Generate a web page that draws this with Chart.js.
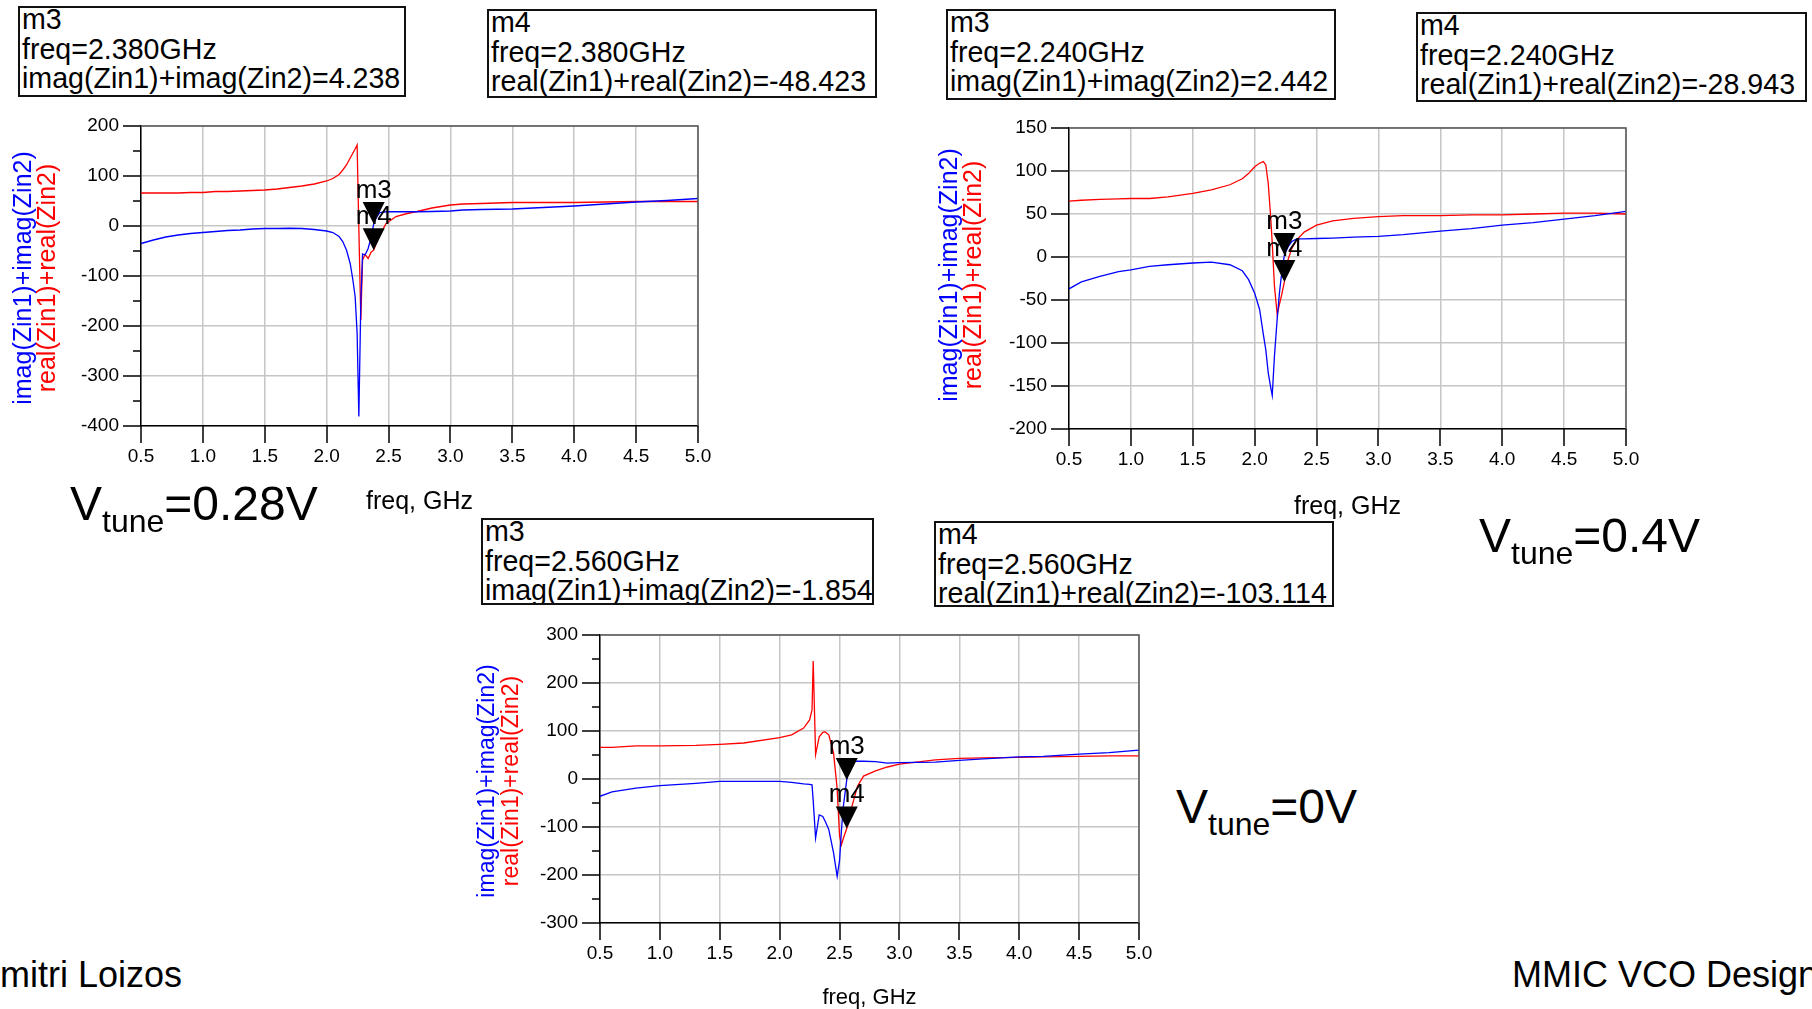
<!DOCTYPE html>
<html>
<head>
<meta charset="utf-8">
<script src="https://cdn.jsdelivr.net/npm/chart.js@4.4.1/dist/chart.umd.min.js"></script>
<style>
  html, body { margin: 0; padding: 0; background: #fff; }
  body { width: 1812px; height: 1009px; position: relative; overflow: hidden;
         font-family: 'Liberation Sans', Arial, sans-serif; color: #000; }
  canvas { position: absolute; }
  .box { position: absolute; border: 2px solid #111; box-sizing: border-box; font-size: 28.6px;
         line-height: 29.5px; padding-left: 2px; white-space: nowrap; overflow: hidden; background: #fff; }
  .box div:first-child { margin-top: -3px; }
  .vtune { position: absolute; font-size: 48px; line-height: 48px; white-space: nowrap; }
  .vtune span { font-size: 32px; vertical-align: -12px; }
  .ytitle { position: absolute; line-height: 1; white-space: nowrap; transform: translate(-50%, -50%) rotate(-90deg); }
  .foot { position: absolute; font-size: 36px; line-height: 36px; white-space: nowrap; }
</style>
</head>
<body>

<canvas id="c1"></canvas>
<canvas id="c2"></canvas>
<canvas id="c3"></canvas>

<div id="b1m3" class="box" style="left:18px;top:6px;width:388px;height:91px"></div>
<div id="b1m4" class="box" style="left:487px;top:9px;width:390px;height:89px"></div>
<div id="b2m3" class="box" style="left:946px;top:9px;width:390px;height:91px"></div>
<div id="b2m4" class="box" style="left:1416px;top:12px;width:391px;height:90px"></div>
<div id="b3m3" class="box" style="left:481px;top:518px;width:393px;height:87px"></div>
<div id="b3m4" class="box" style="left:934px;top:521px;width:400px;height:86px"></div>

<div class="ytitle" style="left:22px;top:278px;font-size:25px;color:#0000ff">imag(Zin1)+imag(Zin2)</div>
<div class="ytitle" style="left:46px;top:278px;font-size:25px;color:#ff0000">real(Zin1)+real(Zin2)</div>
<div class="ytitle" style="left:948px;top:275px;font-size:25px;color:#0000ff">imag(Zin1)+imag(Zin2)</div>
<div class="ytitle" style="left:972px;top:275px;font-size:25px;color:#ff0000">real(Zin1)+real(Zin2)</div>
<div class="ytitle" style="left:486px;top:781px;font-size:23px;color:#0000ff">imag(Zin1)+imag(Zin2)</div>
<div class="ytitle" style="left:510px;top:781px;font-size:23px;color:#ff0000">real(Zin1)+real(Zin2)</div>

<div class="vtune" style="left:70px;top:480px">V<span>tune</span>=0.28V</div>
<div class="vtune" style="left:1479px;top:512px">V<span>tune</span>=0.4V</div>
<div class="vtune" style="left:1176px;top:783px">V<span>tune</span>=0V</div>

<div class="foot" style="left:-34px;top:957px">Dimitri Loizos</div>
<div class="foot" style="left:1512px;top:957px">MMIC VCO Design</div>

<script>
// Vtune = 0.28 V
const freq1 = [0.5, 0.6, 0.7, 0.8, 0.9, 1.0, 1.1, 1.2, 1.3, 1.4, 1.5, 1.6, 1.7, 1.8, 1.9, 2.0,
  2.05, 2.1, 2.13, 2.16, 2.19, 2.21, 2.23, 2.246, 2.26, 2.276,
  2.29, 2.31, 2.335, 2.36, 2.38, 2.40, 2.43, 2.48, 2.56, 2.65,
  2.73, 2.85, 3.0, 3.1, 3.25, 3.5, 3.75, 4.0, 4.25, 4.5, 4.75, 5.0];
const imag1 = [-35, -28, -22, -18, -15, -13, -11, -9, -8, -6, -5, -5, -4.5, -5, -7, -10,
  -13, -21, -31, -48, -75, -105, -141, -214, -381, -150,
  -56, -58, -45, -22, 4.238, 16, 27, 28.5, 28.5, 28.5,
  28.5, 29, 30, 32, 33, 34, 37, 40, 44, 48, 51, 55];
const real1 = [66, 66, 66, 66, 67, 67, 69, 69, 70, 71, 72, 74, 77, 80, 84, 90,
  95, 103, 112, 122, 136, 145, 154, 162, -5, -188,
  -68, -57, -65, -52, -48.423, -35, -18, 5, 19, 25,
  29, 36, 42, 44, 45, 47, 47, 47, 48, 49, 49, 49];

// Vtune = 0.4 V
const freq2 = [0.5, 0.6, 0.75, 0.9, 1.0, 1.15, 1.3, 1.5, 1.65, 1.8,
  1.9, 1.95, 2.0, 2.04, 2.07, 2.09, 2.11, 2.13, 2.142, 2.16,
  2.182, 2.2, 2.215, 2.24, 2.27, 2.3, 2.34, 2.4, 2.5, 2.63,
  2.8, 3.0, 3.2, 3.5, 3.75, 4.0, 4.25, 4.5, 4.75, 5.0];
const imag2 = [-37, -29, -22.5, -17, -15, -11, -9, -7, -6, -9,
  -16, -26, -42, -61, -90, -108, -135, -152, -161, -115,
  -72, -42, -23, 2.442, 12, 18, 21, 21, 21.5, 22,
  23, 24, 26, 30, 33, 37, 40, 44, 48, 53];
const real2 = [65, 66, 67, 67.5, 68, 68, 70, 74, 78, 84,
  91, 97, 105, 109, 111, 107, 85, 45, 16, -34,
  -67, -55, -46, -28.943, -3, 10, 20, 29, 37, 42,
  45, 47, 48, 48, 49, 49, 50, 51, 51, 50];

// Vtune = 0 V
const freq3 = [0.5, 0.6, 0.8, 1.0, 1.3, 1.5, 1.7, 2.0, 2.1, 2.2,
  2.25, 2.27, 2.28, 2.3, 2.33, 2.36, 2.38, 2.41, 2.45, 2.48,
  2.5, 2.515, 2.53, 2.56, 2.58, 2.6, 2.65, 2.7, 2.8, 2.9,
  3.0, 3.3, 3.5, 3.7, 4.0, 4.2, 4.5, 4.75, 5.0];
const imag3 = [-36, -27, -19, -14, -9, -5, -5, -5, -7, -10,
  -11, -12, -45, -123, -75, -78, -88, -105, -154, -203,
  -170, -110, -60, -1.854, 36, 37, 37, 37, 36, 33,
  34, 35, 39, 42, 46, 47, 52, 55, 60];
const real3 = [66, 66, 69, 69, 70, 72, 75, 86, 92, 106,
  123, 144, 246, 51, 88, 97, 98, 92, 54, -20,
  -118, -137, -125, -103.114, -85, -60, -15, 6, 17, 25,
  31, 40, 43, 44, 45, 46, 47, 48, 48];

// markers m3 (imag) / m4 (real)
const markerFreq = [2.38, 2.24, 2.56];
const m3Vals = [4.238, 2.442, -1.854];
const m4Vals = [-48.423, -28.943, -103.114];

const xTicks = [0.5, 1.0, 1.5, 2.0, 2.5, 3.0, 3.5, 4.0, 4.5, 5.0];
const yTicks1 = [-400, -300, -200, -100, 0, 100, 200];
const yTicks2 = [-200, -150, -100, -50, 0, 50, 100, 150];
const yTicks3 = [-300, -200, -100, 0, 100, 200, 300];

Chart.defaults.font.family = "'Liberation Sans', Arial, sans-serif";
Chart.defaults.color = '#000';

const AX_W = 110, PAD_T = 16, PAD_R = 24;

function pairs(f, v) {
    return f.map((x, i) => ({ x: x, y: v[i] }));
}

function midpoints(t) {
    let out = [];
    for (let i = 0; i < t.length - 1; i++) out.push((t[i] + t[i + 1]) / 2);
    return out;
}

// the label padding would otherwise push the plot box inwards
function noPad(s) {
    s.paddingTop = 0; s.paddingBottom = 0; s.paddingLeft = 0; s.paddingRight = 0;
}

// frame, tick marks and marker triangles
const decor = {
    id: 'decor',
    afterDatasetsDraw(chart, args, o) {
        const { ctx, chartArea: a, scales: { x, y } } = chart;
        ctx.save();
        ctx.lineWidth = 1.5;
        ctx.strokeStyle = '#555';
        ctx.beginPath();
        ctx.moveTo(a.left, a.top);
        ctx.lineTo(a.right, a.top);
        ctx.lineTo(a.right, a.bottom);
        ctx.stroke();

        ctx.strokeStyle = '#000';
        ctx.beginPath();
        o.xTicks.forEach(v => {
            const p = Math.round(x.getPixelForValue(v));
            ctx.moveTo(p, a.bottom); ctx.lineTo(p, a.bottom + 17);
        });
        o.yTicks.forEach(v => {
            const p = Math.round(y.getPixelForValue(v));
            ctx.moveTo(a.left - 18, p); ctx.lineTo(a.left, p);
        });
        o.yMinor.forEach(v => {
            const p = Math.round(y.getPixelForValue(v));
            ctx.moveTo(a.left - 8, p); ctx.lineTo(a.left, p);
        });
        ctx.stroke();

        ctx.fillStyle = '#000';
        ctx.font = "26px 'Liberation Sans', Arial, sans-serif";
        ctx.textAlign = 'center';
        ctx.textBaseline = 'alphabetic';
        o.markers.forEach(m => {
            const px = x.getPixelForValue(m.f), py = y.getPixelForValue(m.v);
            ctx.beginPath();
            ctx.moveTo(px - 11, py - 22);
            ctx.lineTo(px + 11, py - 22);
            ctx.lineTo(px, py);
            ctx.closePath();
            ctx.fill();
            ctx.fillText(m.name, px, py - 26);
        });
        ctx.restore();
    }
};

function drawChart(id, L, freq, imag, real, yTicks, yMinor, k) {
    const cv = document.getElementById(id);
    cv.width = AX_W + L.w + PAD_R;
    cv.height = PAD_T + L.h + L.axH;
    cv.style.left = (L.x - AX_W) + 'px';
    cv.style.top = (L.y - PAD_T) + 'px';

    new Chart(cv, {
        type: 'line',
        data: {
            datasets: [{
                data: pairs(freq, imag),
                borderColor: '#0000ff',
                borderWidth: 1.3,
                pointRadius: 0,
                tension: 0
            }, {
                data: pairs(freq, real),
                borderColor: '#ff0000',
                borderWidth: 1.3,
                pointRadius: 0,
                tension: 0
            }]
        },
        options: {
            responsive: false,
            animation: false,
            devicePixelRatio: 1,
            layout: { autoPadding: false, padding: { top: PAD_T, right: PAD_R, left: 0, bottom: 0 } },
            plugins: {
                legend: { display: false },
                tooltip: { enabled: false },
                decor: {
                    xTicks: xTicks,
                    yTicks: yTicks,
                    yMinor: yMinor,
                    markers: [
                        { name: 'm3', f: markerFreq[k], v: m3Vals[k] },
                        { name: 'm4', f: markerFreq[k], v: m4Vals[k] }
                    ]
                }
            },
            scales: {
                x: {
                    type: 'linear',
                    min: xTicks[0],
                    max: xTicks[xTicks.length - 1],
                    afterBuildTicks: s => { s.ticks = xTicks.map(v => ({ value: v })); },
                    afterFit: s => { s.height = L.axH; noPad(s); },
                    ticks: {
                        callback: v => v.toFixed(1),
                        font: { size: 19 },
                        padding: 19,
                        maxRotation: 0,
                        autoSkip: false
                    },
                    grid: { color: '#c6c6c6', lineWidth: 1.5, drawTicks: false },
                    border: { color: '#000', width: 1.5 },
                    title: { display: true, text: 'freq, GHz', font: { size: L.tf }, padding: 0 }
                },
                y: {
                    type: 'linear',
                    min: yTicks[0],
                    max: yTicks[yTicks.length - 1],
                    afterBuildTicks: s => { s.ticks = yTicks.map(v => ({ value: v })); },
                    afterFit: s => { s.width = AX_W; noPad(s); },
                    ticks: {
                        callback: v => String(v),
                        font: { size: 19 },
                        padding: 22
                    },
                    grid: { color: '#c6c6c6', lineWidth: 1.5, drawTicks: false },
                    border: { color: '#000', width: 1.5 }
                }
            }
        },
        plugins: [decor]
    });
}

function fillBox(id, name, f, label, v) {
    document.getElementById(id).innerHTML =
        '<div>' + name + '</div><div>freq=' + f.toFixed(3) + 'GHz</div><div>' +
        label + '=' + v.toFixed(3) + '</div>';
}

const IMAG = 'imag(Zin1)+imag(Zin2)', REAL = 'real(Zin1)+real(Zin2)';
for (let k = 0; k < 3; k++) {
    fillBox('b' + (k + 1) + 'm3', 'm3', markerFreq[k], IMAG, m3Vals[k]);
    fillBox('b' + (k + 1) + 'm4', 'm4', markerFreq[k], REAL, m4Vals[k]);
}

drawChart('c1', { x: 141, y: 126, w: 557, h: 300, axH: 91, tf: 25 },
    freq1, imag1, real1, yTicks1, midpoints(yTicks1), 0);
drawChart('c2', { x: 1069, y: 128, w: 557, h: 301, axH: 93, tf: 25 },
    freq2, imag2, real2, yTicks2, [], 1);
drawChart('c3', { x: 600, y: 635, w: 539, h: 288, axH: 88, tf: 22 },
    freq3, imag3, real3, yTicks3, midpoints(yTicks3), 2);
</script>
</body>
</html>
